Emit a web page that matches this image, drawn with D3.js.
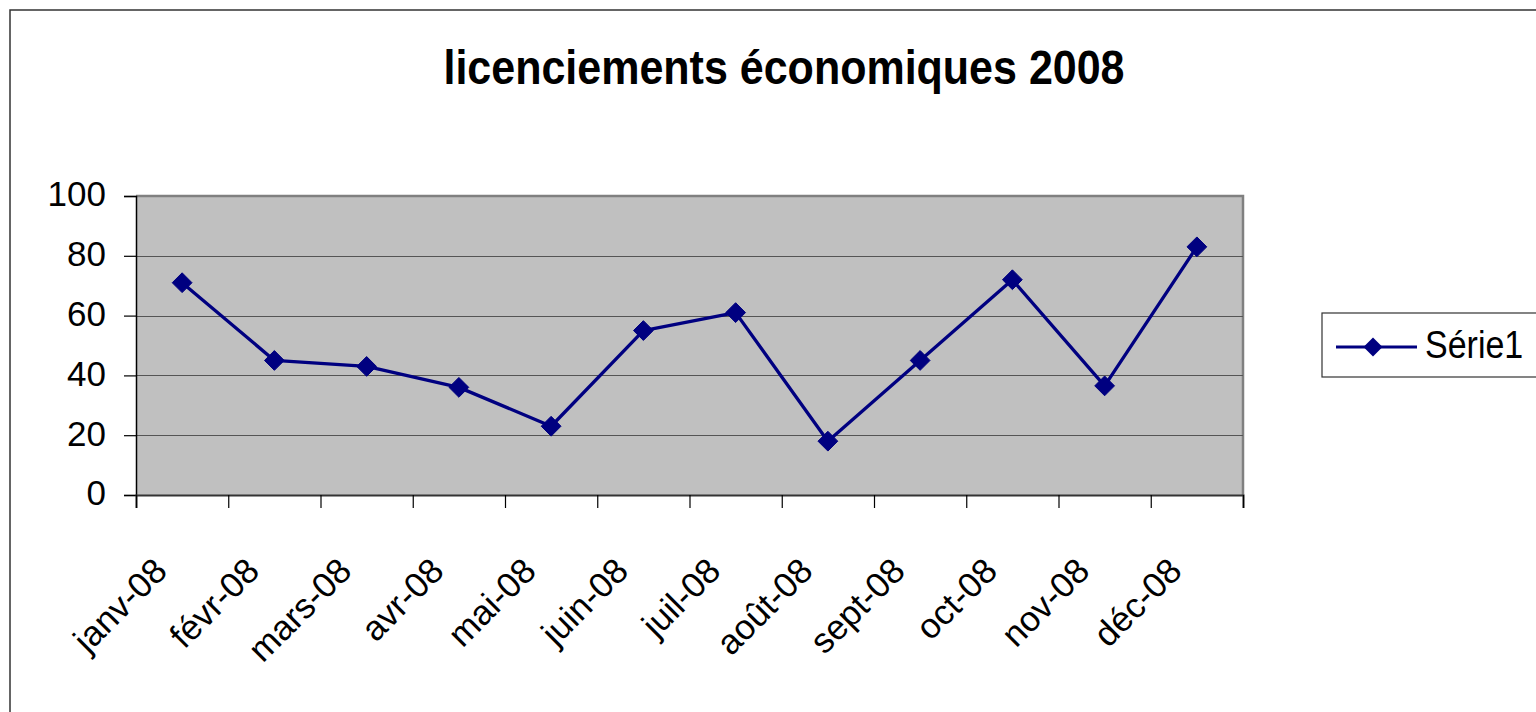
<!DOCTYPE html>
<html>
<head>
<meta charset="utf-8">
<script src="https://cdn.jsdelivr.net/npm/d3@7"></script>
<style>
  html, body { margin: 0; padding: 0; background: #fff; }
  svg { display: block; font-family: "Liberation Sans", Arial, sans-serif; }
</style>
</head>
<body>
<svg id="chart" width="1536" height="712"></svg>
<script>
const title = "licenciements économiques 2008";
const categories = ["janv-08", "févr-08", "mars-08", "avr-08", "mai-08", "juin-08",
                    "juil-08", "août-08", "sept-08", "oct-08", "nov-08", "déc-08"];
const values = [71, 45, 43, 36, 23, 55, 61, 18, 45, 72, 36.5, 83];
const yTicks = [0, 20, 40, 60, 80, 100];
const seriesName = "Série1";

const svg = d3.select("#chart");
const W = 1536, H = 712;
const plot = { left: 136, right: 1243, top: 196, bottom: 495 };
const navy = "#000080";

// outer chart border
svg.append("rect").attr("x", 10).attr("y", 10).attr("width", W).attr("height", H)
  .attr("fill", "#fff").attr("stroke", "#333").attr("stroke-width", 1.5);

// title
svg.append("text")
  .attr("transform", "translate(784,84) scale(1,1.13)")
  .attr("text-anchor", "middle")
  .attr("font-weight", "bold").attr("font-size", 43)
  .attr("fill", "#000").text(title);

const x = d3.scaleBand().domain(categories).range([plot.left, plot.right]);
const xEdge = d3.scaleLinear().domain([0, categories.length]).range([plot.left, plot.right]);
const y = d3.scaleLinear().domain([0, 100]).range([plot.bottom, plot.top]);

// plot area
svg.append("rect").attr("x", plot.left).attr("y", plot.top)
  .attr("width", plot.right - plot.left).attr("height", plot.bottom - plot.top)
  .attr("fill", "#c0c0c0");
svg.append("path")
  .attr("d", `M${plot.left},${plot.top}H${plot.right}V${plot.bottom}`)
  .attr("fill", "none").attr("stroke", "#808080").attr("stroke-width", 2.5);

// gridlines
svg.append("g").selectAll("line").data(yTicks.filter(d => d > 0 && d < 100)).join("line")
  .attr("x1", plot.left).attr("x2", plot.right)
  .attr("y1", d => Math.round(y(d)) + 0.5).attr("y2", d => Math.round(y(d)) + 0.5)
  .attr("stroke", "#555").attr("stroke-width", 1.2);

// y axis
const yAxis = svg.append("g").attr("transform", `translate(${plot.left},0)`)
  .call(d3.axisLeft(y).tickValues(yTicks).tickSize(12).tickPadding(18));
yAxis.select(".domain").attr("stroke", "#000").attr("stroke-width", 1.5);
yAxis.selectAll(".tick line").attr("stroke", "#000").attr("stroke-width", 1.2);
yAxis.selectAll(".tick text").attr("font-size", 35).attr("fill", "#000")
  .attr("font-family", "Liberation Sans, Arial, sans-serif").attr("dy", "0.28em");

// x axis (ticks at category boundaries)
const xAxis = svg.append("g").attr("transform", `translate(0,${plot.bottom})`)
  .call(d3.axisBottom(xEdge).tickValues(d3.range(categories.length + 1))
    .tickSize(13).tickFormat(""));
xAxis.select(".domain").attr("stroke", "#333").attr("stroke-width", 2);
xAxis.selectAll(".tick line").attr("stroke", "#000").attr("stroke-width", 1.2);

// x labels
svg.append("g").selectAll("text").data(categories).join("text")
  .attr("transform", d => `translate(${x(d) + x.bandwidth() / 2 - 13},573) rotate(-45)`)
  .attr("text-anchor", "end")
  .attr("font-size", 35).attr("fill", "#000").text(d => d);

// line
const line = d3.line().x((d, i) => x(categories[i]) + x.bandwidth() / 2).y(d => y(d));
svg.append("path").datum(values).attr("d", line)
  .attr("fill", "none").attr("stroke", navy).attr("stroke-width", 3.3).attr("stroke-linejoin", "round");

// markers
const diamond = d3.symbol().type(d3.symbolDiamond2).size(250);
svg.append("g").selectAll("path").data(values).join("path")
  .attr("transform", (d, i) => `translate(${x(categories[i]) + x.bandwidth() / 2},${y(d)})`)
  .attr("d", diamond).attr("fill", navy).attr("stroke", navy).attr("stroke-width", 1)
  .attr("stroke-linejoin", "round");

// legend
const lg = svg.append("g");
lg.append("rect").attr("x", 1322).attr("y", 313).attr("width", 240).attr("height", 64)
  .attr("fill", "#fff").attr("stroke", "#333").attr("stroke-width", 1.2);
lg.append("line").attr("x1", 1336).attr("x2", 1417).attr("y1", 347).attr("y2", 347)
  .attr("stroke", navy).attr("stroke-width", 3);
lg.append("path").attr("transform", "translate(1373,347)")
  .attr("d", d3.symbol().type(d3.symbolDiamond2).size(230)).attr("fill", navy);
lg.append("text").attr("transform", "translate(1425,358) scale(1,1.12)")
  .attr("font-size", 34).attr("fill", "#000").text(seriesName);
</script>
</body>
</html>
